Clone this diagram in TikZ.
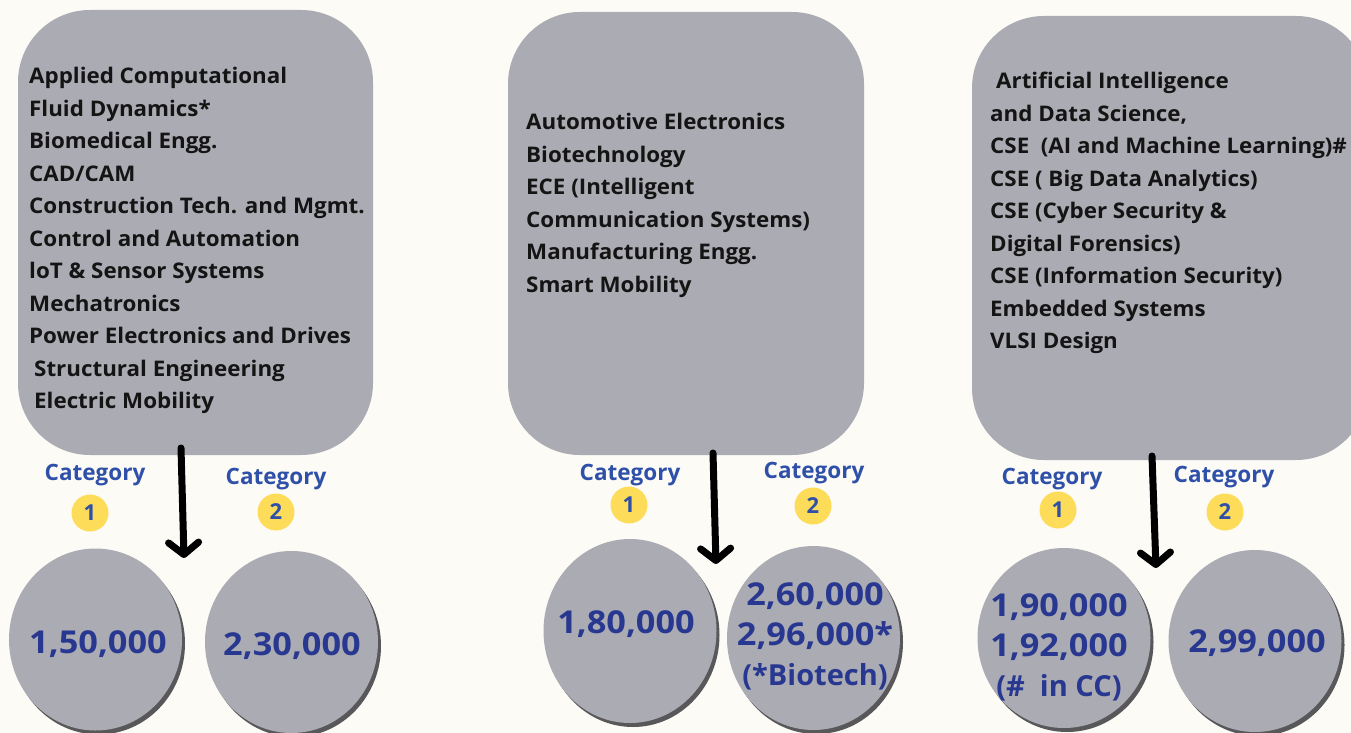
\documentclass[tikz,border=0pt]{standalone}
\usepackage{fontspec}
\setmainfont{Open Sans}
\newfontfamily\bodyfont[FakeStretch=1.04]{Open Sans}
\newfontfamily\numfont[FakeStretch=1.09]{Open Sans}
\newcommand\narrowpart{\fontspec{Open Sans}\bfseries\fontsize{29}{40}\selectfont}
\usetikzlibrary{shapes.geometric,arrows.meta,shadows}
\definecolor{bgcol}{HTML}{FDFBF6}
\definecolor{boxgrey}{HTML}{ABABB3}
\definecolor{shadowgrey}{HTML}{58585A}
\definecolor{catblue}{HTML}{2E50A9}
\definecolor{numnavy}{HTML}{283890}
\definecolor{yell}{HTML}{FDDC5A}
\definecolor{bodyblack}{HTML}{141414}
\tikzset{
  bigbox/.style={fill=boxgrey, rounded corners=72pt, inner sep=0pt},
  listtext/.style={anchor=north west, align=left, inner sep=0pt, text=bodyblack,
    font=\bodyfont\bfseries\fontsize{21.5}{32.5}\selectfont},
  cattext/.style={text=catblue, inner sep=0pt, font=\bfseries\fontsize{22.5}{26}\selectfont},
  catnum/.style={circle, fill=yell, minimum size=37pt, inner sep=0pt, text=catblue,
    font=\bfseries\fontsize{22}{26}\selectfont},
  fee/.style={ellipse, fill=boxgrey, inner sep=0pt, minimum width=173pt, minimum height=182pt,
    general shadow={fill=shadowgrey, shadow xshift=3pt, shadow yshift=-4pt}},
  feetext/.style={align=center, inner sep=0pt, text=numnavy,
    font=\numfont\bfseries\fontsize{31.5}{40}\selectfont},
  downarrow/.style={line width=7pt, -{Straight Barb[length=12pt, width=30pt, round]}, line cap=round}
}
\begin{document}
\begin{tikzpicture}[x=1pt,y=-1pt]
\fill[bgcol] (0,0) rectangle (1351,733);
\useasboundingbox (0,0) rectangle (1351,733);
\clip (0,0) rectangle (1351,733);

% boxes
\node[bigbox, minimum width=355pt, minimum height=445pt] (b1) at (195.5,232.5) {};
\node[bigbox, minimum width=356pt, minimum height=443pt] (b2) at (686,233.5) {};
\node[bigbox, minimum width=396pt, minimum height=444pt] (b3) at (1170,238) {};

\node[listtext] (t1) at (29,67) {Applied Computational\\Fluid Dynamics*\\Biomedical Engg.\\CAD/CAM\\Construction Tech. and Mgmt.\\Control and Automation\\loT \& Sensor Systems\\Mechatronics\\Power Electronics and Drives\\\hspace*{5pt}Structural Engineering\\\hspace*{5pt}Electric Mobility};
\node[listtext] (t2) at (526,113) {Automotive Electronics\\Biotechnology\\ECE (Intelligent\\Communication Systems)\\Manufacturing Engg.\\Smart Mobility};
\node[listtext] (t3) at (990,72) {\hspace*{6pt}Artificial Intelligence\\and Data Science,\\CSE\ \ (AI and Machine Learning)\#\\CSE ( Big Data Analytics)\\CSE (Cyber Security \&\\Digital Forensics)\\CSE (Information Security)\\Embedded Systems\\VLSI Design};

% arrows
\coordinate (a1s) at (181,448);
\coordinate (a1e) at (184,558);
\coordinate (a2s) at (713,453);
\coordinate (a2e) at (716,564);
\coordinate (a3s) at (1152,456);
\coordinate (a3e) at (1156,568);
\draw[downarrow] (a1s) -- (a1e);
\draw[downarrow] (a2s) -- (a2e);
\draw[downarrow] (a3s) -- (a3e);

% category labels
\node[cattext] (c11) at (95,475) {Category};
\node[catnum] (n11) at (90,513) {1};
\node[cattext] (c12) at (276,479) {Category};
\node[catnum] (n12) at (276,512) {2};
\node[cattext] (c21) at (630,475) {Category};
\node[catnum] (n21) at (629,505) {1};
\node[cattext] (c22) at (814,473) {Category};
\node[catnum] (n22) at (813,506) {2};
\node[cattext] (c31) at (1052,479) {Category};
\node[catnum] (n31) at (1058,510) {1};
\node[cattext] (c32) at (1224,477) {Category};
\node[catnum] (n32) at (1225,512) {2};

% fee circles
\node[fee] (f11) at (95.5,639.5) {};
\node[fee] (f12) at (291.5,642) {};
\node[fee, minimum height=184pt] (f21) at (630,631) {};
\node[fee, minimum height=184pt] (f22) at (813.5,638) {};
\node[fee, minimum height=180pt] (f31) at (1064,638) {};
\node[fee] (f32) at (1255,641) {};

\node[feetext] (v11) at (98,644) {1,50,000};
\node[feetext] (v12) at (292,646) {2,30,000};
\node[feetext] (v21) at (626,624) {1,80,000};
\node[feetext] (v22) at (815,636) {2,60,000\\2,96,000*\\{\narrowpart(*Biotech)}};
\node[feetext] (v31) at (1059,647) {1,90,000\\1,92,000\\{\narrowpart(\#\ \ in CC)}};
\node[feetext] (v32) at (1257,643) {2,99,000};
\end{tikzpicture}
\end{document}
